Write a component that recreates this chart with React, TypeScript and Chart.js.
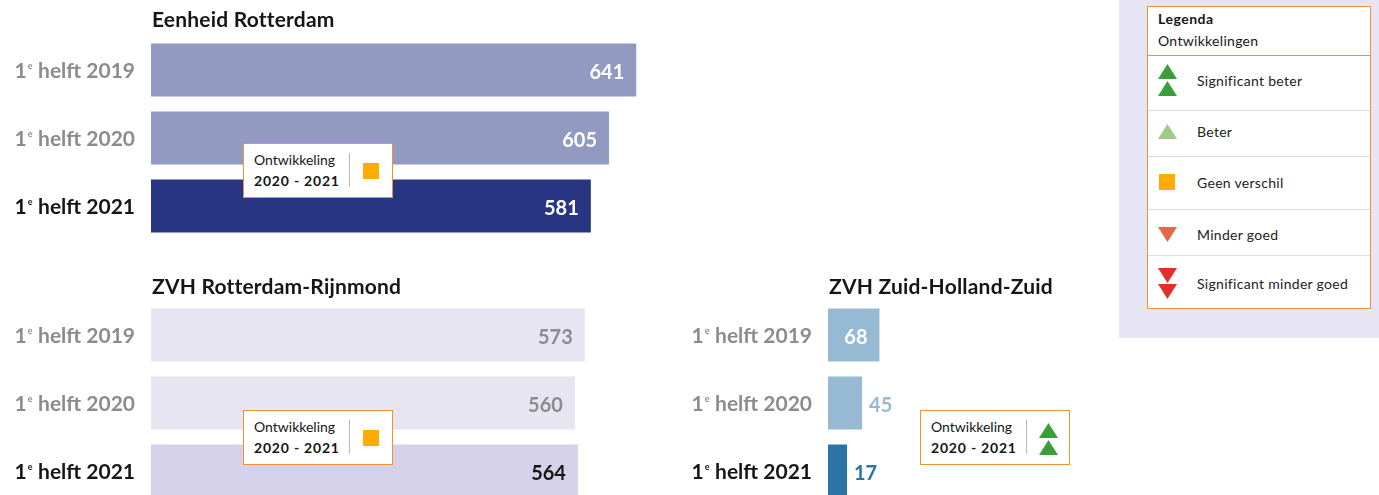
import React, { useEffect, useRef } from "react";
import { Chart, registerables } from "chart.js";

Chart.register(...registerables);

const FONT = "Lato, 'Open Sans', 'Noto Sans', sans-serif";

// ---- data ----
const categories = ["1e helft 2019", "1e helft 2020", "1e helft 2021"];
const eenheidValues = [641, 605, 581];
const rijnmondValues = [573, 560, 564];
const zhzValues = [68, 45, 17];
const chartTitles = ["Eenheid Rotterdam", "ZVH Rotterdam-Rijnmond", "ZVH Zuid-Holland-Zuid"];
const developmentLines = ["Ontwikkeling", "2020 - 2021"];
const legendHeader = ["Legenda", "Ontwikkelingen"];
const legendItems = ["Significant beter", "Beter", "Geen verschil", "Minder goed", "Significant minder goed"];

// ---- colours ----
const LABEL_GREY = "#8c8c8c";
const LABEL_DARK = "#161616";
const ORANGE_BORDER = "#f0922f";
const ORANGE_SQUARE = "#ffab00";
const GREEN_DARK = "#3a9e3a";
const GREEN_LIGHT = "#a2c88a";
const RED_LIGHT = "#e8644a";
const RED_DARK = "#e1302a";

const panelTextPlugin = {
  id: "panelText",
  afterDatasetsDraw(chart: any) {
    const opts = chart.options.plugins.panelText;
    const ctx = chart.ctx as any;
    const area = chart.chartArea;
    const meta = chart.getDatasetMeta(0);
    const yScale = chart.scales.y;
    ctx.save();
    // title
    ctx.letterSpacing = "0.2px";
    ctx.font = `700 21px ${FONT}`;
    ctx.fillStyle = LABEL_DARK;
    ctx.textAlign = "left";
    ctx.textBaseline = "alphabetic";
    ctx.fillText(opts.title, area.left + 1, opts.titleBaseline);

    chart.data.labels.forEach((label: string, i: number) => {
      const cy = yScale.getPixelForValue(i);
      const base = cy + 8;
      const color = i === chart.data.labels.length - 1 ? LABEL_DARK : LABEL_GREY;
      // category label with superscript "e"
      const m = label.match(/^(\d+)(e)(.*)$/);
      const bigFont = `700 21px ${FONT}`;
      const smallFont = `700 9px ${FONT}`;
      ctx.letterSpacing = "0px";
      ctx.fillStyle = color;
      ctx.textAlign = "left";
      if (m) {
        ctx.font = bigFont;
        const w1 = ctx.measureText(m[1]).width;
        const w3 = ctx.measureText(m[3]).width;
        ctx.font = smallFont;
        const w2 = ctx.measureText(m[2]).width;
        const right = area.left - 16;
        let x = right - (w1 + w2 + 1.5 + w3);
        ctx.font = bigFont;
        ctx.fillText(m[1], x, base);
        x += w1 + 1;
        ctx.font = smallFont;
        ctx.fillText(m[2], x, base - 9);
        x += w2 + 0.5;
        ctx.font = bigFont;
        ctx.fillText(m[3], x, base);
      } else {
        ctx.font = bigFont;
        ctx.textAlign = "right";
        ctx.fillText(label, area.left - 16, base);
      }

      // value label
      const bar = meta.data[i];
      const value = chart.data.datasets[0].data[i];
      const text = String(value);
      ctx.font = `700 20px ${FONT}`;
      const tw = ctx.measureText(text).width;
      const barW = bar.x - bar.base;
      if (tw + 20 < barW) {
        ctx.textAlign = "right";
        ctx.fillStyle = opts.insideColors[i];
        ctx.fillText(text, bar.x - 12, cy + 8.5);
      } else {
        ctx.textAlign = "left";
        ctx.fillStyle = chart.data.datasets[0].backgroundColor[i];
        ctx.fillText(text, bar.x + 7, cy + 8.5);
      }
    });
    ctx.restore();
  },
};

type PanelProps = {
  title: string;
  values: number[];
  colors: string[];
  insideColors: string[];
  left: number;
  top: number;
  width: number;
  height: number;
  padTop: number;
  max: number;
  titleBaseline: number;
  minBarLength?: number;
};

function BarPanel(p: PanelProps) {
  const ref = useRef<HTMLCanvasElement>(null);
  useEffect(() => {
    const chart = new Chart(ref.current as HTMLCanvasElement, {
      type: "bar",
      data: {
        labels: categories,
        datasets: [
          {
            data: p.values,
            backgroundColor: p.colors,
            borderWidth: 0,
            barPercentage: 1,
            categoryPercentage: 53 / 68,
            minBarLength: p.minBarLength || 0,
          },
        ],
      },
      options: {
        indexAxis: "y",
        responsive: false,
        animation: false,
        events: [],
        layout: { padding: { left: 151, top: p.padTop, right: 0, bottom: 0 } },
        scales: {
          x: { display: false, min: 0, max: p.max },
          y: { display: false },
        },
        plugins: {
          legend: { display: false },
          tooltip: { enabled: false },
          title: { display: false },
          panelText: {
            title: p.title,
            titleBaseline: p.titleBaseline,
            insideColors: p.insideColors,
          },
        } as any,
      },
      plugins: [panelTextPlugin],
    });
    return () => chart.destroy();
  }, []);
  return (
    <canvas
      ref={ref}
      width={p.width}
      height={p.height}
      style={{ position: "absolute", left: p.left, top: p.top, width: p.width, height: p.height }}
    />
  );
}

function TriUp({ color, x, y }: { color: string; x: number; y: number }) {
  return <polygon points={`${x},${y + 15} ${x + 9.5},${y} ${x + 19},${y + 15}`} fill={color} />;
}
function TriDown({ color, x, y }: { color: string; x: number; y: number }) {
  return <polygon points={`${x},${y} ${x + 19},${y} ${x + 9.5},${y + 15}`} fill={color} />;
}

function Icon({ kind, left, top }: { kind: number; left: number; top: number }) {
  // kind: 0 sig beter, 1 beter, 2 geen verschil, 3 minder goed, 4 sig minder goed
  let content: React.ReactNode = null;
  if (kind === 0)
    content = (
      <>
        <TriUp color={GREEN_DARK} x={0} y={0} />
        <TriUp color={GREEN_DARK} x={0} y={17} />
      </>
    );
  else if (kind === 1) content = <TriUp color={GREEN_LIGHT} x={0} y={0} />;
  else if (kind === 2) content = <rect x={1} y={0} width={16} height={16} fill={ORANGE_SQUARE} />;
  else if (kind === 3) content = <TriDown color={RED_LIGHT} x={0} y={0} />;
  else
    content = (
      <>
        <TriDown color={RED_DARK} x={0} y={0} />
        <TriDown color={RED_DARK} x={0} y={16} />
      </>
    );
  return (
    <svg width={19} height={34} style={{ position: "absolute", left, top, overflow: "visible" }}>
      {content}
    </svg>
  );
}

function DevBox({ left, top, kind }: { left: number; top: number; kind: number }) {
  return (
    <div
      style={{
        position: "absolute",
        left,
        top,
        width: 150,
        height: 55,
        boxSizing: "border-box",
        border: `1px solid ${ORANGE_BORDER}`,
        background: "#fff",
        fontFamily: FONT,
        color: LABEL_DARK,
      }}
    >
      <div style={{ position: "absolute", left: 10, top: 8, fontSize: 14, lineHeight: "16px", whiteSpace: "nowrap" }}>
        {developmentLines[0]}
      </div>
      <div
        style={{
          position: "absolute",
          left: 10,
          top: 29,
          fontSize: 14,
          fontWeight: 700,
          letterSpacing: "0.8px",
          lineHeight: "16px",
          whiteSpace: "nowrap",
        }}
      >
        {developmentLines[1]}
      </div>
      <div style={{ position: "absolute", left: 105, top: 9, width: 1, height: 34, background: "#b8b8b8" }} />
      <Icon kind={kind} left={118} top={kind === 2 ? 19 : 12} />
    </div>
  );
}

function Legend() {
  const rowTextBaselines = [86, 137, 188, 240, 289];
  const iconTops = [64, 124, 174, 227, 268];
  const separators = [110, 156, 209, 255];
  const boxLeft = 1147;
  const boxTop = 6;
  const textStyle: React.CSSProperties = {
    position: "absolute",
    fontFamily: FONT,
    fontSize: 14,
    letterSpacing: "0.3px",
    lineHeight: "16px",
    color: "#222",
    whiteSpace: "nowrap",
  };
  return (
    <>
      <div style={{ position: "absolute", left: 1119, top: 0, width: 260, height: 338, background: "#e7e5f3" }} />
      <div
        style={{
          position: "absolute",
          left: boxLeft,
          top: boxTop,
          width: 224,
          height: 303,
          boxSizing: "border-box",
          border: `1px solid ${ORANGE_BORDER}`,
          background: "#fff",
        }}
      />
      <div style={{ ...textStyle, left: 1158, top: 24 - 13.4, fontWeight: 700, letterSpacing: "0.5px", color: LABEL_DARK }}>
        {legendHeader[0]}
      </div>
      <div style={{ ...textStyle, left: 1158, top: 46 - 13.4, color: LABEL_DARK }}>{legendHeader[1]}</div>
      <div style={{ position: "absolute", left: boxLeft, top: 55, width: 224, height: 1, background: ORANGE_BORDER }} />
      {separators.map((y, i) => (
        <div
          key={i}
          style={{ position: "absolute", left: boxLeft + 1, top: y, width: 222, height: 1, background: "#dcdcdc" }}
        />
      ))}
      {legendItems.map((t, i) => (
        <React.Fragment key={t}>
          <Icon kind={i} left={1158} top={iconTops[i]} />
          <div style={{ ...textStyle, left: 1197, top: rowTextBaselines[i] - 13.4 }}>{t}</div>
        </React.Fragment>
      ))}
    </>
  );
}

const PX_PER_UNIT = 0.757;

export default function App() {
  return (
    <div
      style={{
        position: "fixed",
        left: 0,
        top: 0,
        width: 1379,
        height: 495,
        overflow: "hidden",
        background: "#fff",
      }}
    >
      <BarPanel
        title={chartTitles[0]}
        values={eenheidValues}
        colors={["#929ac2", "#929ac2", "#283583"]}
        insideColors={["#ffffff", "#ffffff", "#ffffff"]}
        left={0}
        top={0}
        width={700}
        height={240}
        padTop={36}
        max={549 / PX_PER_UNIT}
        titleBaseline={27}
      />
      <BarPanel
        title={chartTitles[1]}
        values={rijnmondValues}
        colors={["#e7e5f2", "#e7e5f2", "#d5d1e8"]}
        insideColors={[LABEL_GREY, LABEL_GREY, LABEL_DARK]}
        left={0}
        top={250}
        width={700}
        height={255}
        padTop={51}
        max={549 / PX_PER_UNIT}
        titleBaseline={44}
      />
      <BarPanel
        title={chartTitles[2]}
        values={zhzValues}
        colors={["#96b9d4", "#96b9d4", "#2d74a6"]}
        insideColors={["#ffffff", "#ffffff", "#ffffff"]}
        left={677}
        top={250}
        width={378}
        height={255}
        padTop={51}
        max={227 / PX_PER_UNIT}
        titleBaseline={44}
        minBarLength={19}
      />
      <DevBox left={243} top={143} kind={2} />
      <DevBox left={243} top={410} kind={2} />
      <DevBox left={920} top={410} kind={0} />
      <Legend />
    </div>
  );
}
